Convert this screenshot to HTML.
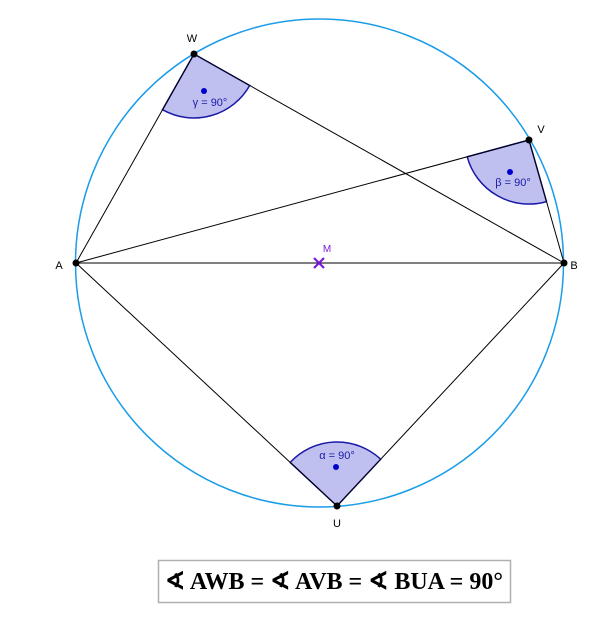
<!DOCTYPE html>
<html><head><meta charset="utf-8"><style>
html,body{margin:0;padding:0;background:#fff;}
svg{display:block;}
</style></head><body>
<svg width="609" height="642" viewBox="0 0 609 642" xmlns="http://www.w3.org/2000/svg">
<rect width="609" height="642" fill="#fff"/>
<g fill="#c0c0f0" stroke="#1a1aa8" stroke-width="1.5">
<path d="M194 54 L162.5 109.7 A64 64 0 0 0 249.7 85.5 Z"/>
<path d="M529 140 L467.2 156.8 A64 64 0 0 0 546.5 201.6 Z"/>
<path d="M337 506 L290.2 462.4 A64 64 0 0 1 380.7 459.2 Z"/>
</g>
<circle cx="319.5" cy="263" r="244" fill="none" stroke="#1a9ce8" stroke-width="1.5"/>
<g stroke="#000" stroke-width="1" fill="none">
<line x1="76" y1="263" x2="564" y2="263"/>
<line x1="76" y1="263" x2="194" y2="54"/>
<line x1="194" y1="54" x2="564" y2="263"/>
<line x1="76" y1="263" x2="529" y2="140"/>
<line x1="529" y1="140" x2="564" y2="263"/>
<line x1="76" y1="263" x2="337" y2="506"/>
<line x1="337" y1="506" x2="564" y2="263"/>
</g>
<g fill="#0000cc">
<circle cx="204" cy="91" r="3"/>
<circle cx="510" cy="172" r="3"/>
<circle cx="336" cy="467" r="3"/>
</g>
<g font-family="Liberation Sans, sans-serif" font-size="11" fill="#1a1aa8" text-anchor="middle">
<text x="210" y="106">γ = 90°</text>
<text x="513" y="186">β = 90°</text>
<text x="337" y="459">α = 90°</text>
</g>
<g fill="#000">
<circle cx="194" cy="54" r="3.5"/>
<circle cx="529" cy="140" r="3.5"/>
<circle cx="76" cy="263" r="3.5"/>
<circle cx="564" cy="263" r="3.5"/>
<circle cx="337" cy="506" r="3.5"/>
</g>
<g stroke="#7a1ad8" stroke-width="2.2">
<line x1="314" y1="258" x2="324" y2="268"/>
<line x1="314" y1="268" x2="324" y2="258"/>
</g>
<text x="327" y="252" font-family="Liberation Sans, sans-serif" font-size="10" fill="#7a1ad8" text-anchor="middle">M</text>
<g font-family="Liberation Sans, sans-serif" font-size="11" fill="#000" text-anchor="middle">
<text x="192" y="42">W</text>
<text x="541" y="133">V</text>
<text x="59" y="269">A</text>
<text x="574" y="269">B</text>
<text x="337" y="527">U</text>
</g>
<rect x="158.5" y="560.5" width="352" height="42" fill="#fff" stroke="#b0b0b0" stroke-width="1.5"/>
<text x="334" y="589" font-family="Liberation Serif, serif" font-weight="bold" font-size="24" fill="#000" text-anchor="middle">∢ AWB = ∢ AVB = ∢ BUA = 90°</text>
</svg>
</body></html>
